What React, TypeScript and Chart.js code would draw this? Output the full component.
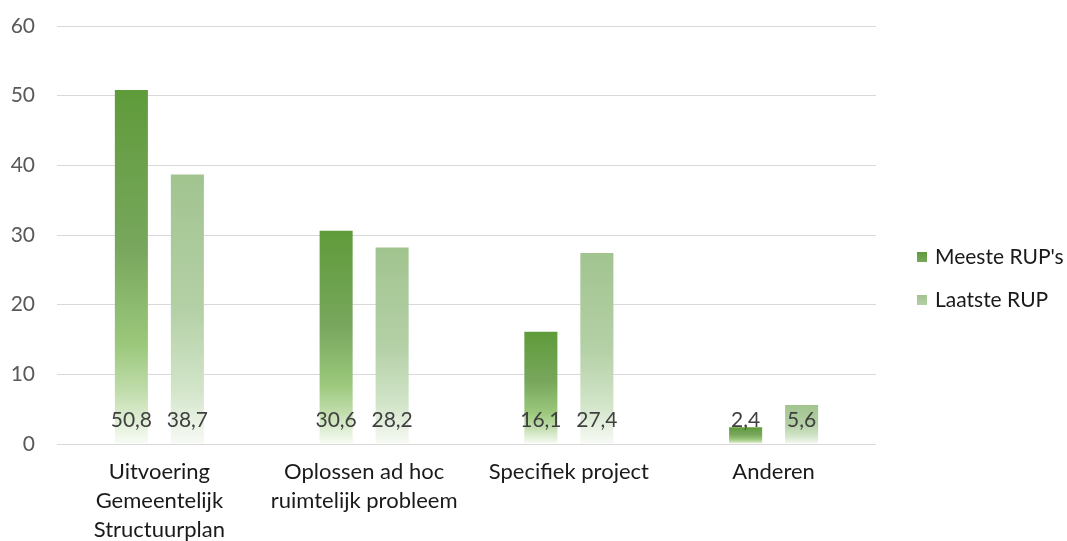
import React, { useEffect, useRef } from "react";
import { Chart, registerables } from "chart.js";

Chart.register(...registerables);

// Categories (multi-line labels are arrays)
const categories: (string | string[])[] = [
  ["Uitvoering", "Gemeentelijk", "Structuurplan"],
  ["Oplossen ad hoc", "ruimtelijk probleem"],
  "Specifiek project",
  "Anderen",
];

const seriesNames = ["Meeste RUP's", "Laatste RUP"];
const meesteRups = [50.8, 30.6, 16.1, 2.4];
const laatsteRup = [38.7, 28.2, 27.4, 5.6];

const yMin = 0;
const yMax = 60;
const yStep = 10;

// Vertical gradient stops per series (top of bar -> base)
const meesteStops: [number, string][] = [
  [0, "#5f9b3a"],
  [0.45, "#78a75d"],
  [0.72, "#9bc87b"],
  [0.85, "#c0dcab"],
  [1, "#f8fcf5"],
];
const laatsteStops: [number, string][] = [
  [0, "#a1c48f"],
  [0.5, "#b4d0a6"],
  [0.8, "#d2e5c9"],
  [1, "#f7faf5"],
];

const FONT = "Lato, 'Open Sans', sans-serif";

function barGradient(stops: [number, string][]) {
  return (ctx: any) => {
    const chart = ctx.chart;
    const { chartArea, scales } = chart;
    if (!chartArea || ctx.type !== "data" || !scales.y) return stops[0][1];
    const top = scales.y.getPixelForValue(ctx.raw);
    const base = scales.y.getPixelForValue(0);
    const g = chart.ctx.createLinearGradient(0, top, 0, base);
    stops.forEach(([o, c]) => g.addColorStop(o, c));
    return g;
  };
}

const fmt = (v: number) => v.toFixed(1).replace(".", ",");

// Value labels drawn just above the base of each bar
const valueLabels = {
  id: "valueLabels",
  afterDatasetsDraw(chart: any) {
    const { ctx, scales } = chart;
    const base = scales.y.getPixelForValue(0);
    ctx.save();
    ctx.font = `21px ${FONT}`;
    ctx.fillStyle = "#404040";
    ctx.textAlign = "center";
    ctx.textBaseline = "middle";
    chart.data.datasets.forEach((ds: any, i: number) => {
      const meta = chart.getDatasetMeta(i);
      meta.data.forEach((el: any, j: number) => {
        ctx.fillText(fmt(ds.data[j]), el.x, base - 24);
      });
    });
    ctx.restore();
  },
};

// Legend on the right with gradient swatches
const sideLegend = {
  id: "sideLegend",
  afterDraw(chart: any) {
    const { ctx } = chart;
    const x = 917;
    const ys = [257, 300];
    ctx.save();
    ctx.font = `21px ${FONT}`;
    ctx.textAlign = "left";
    ctx.textBaseline = "middle";
    chart.data.datasets.forEach((ds: any, i: number) => {
      const y = ys[i];
      const stops = i === 0 ? meesteStops : laatsteStops;
      const g = ctx.createLinearGradient(0, y - 5, 0, y + 5);
      g.addColorStop(0, stops[0][1]);
      g.addColorStop(1, stops[1][1]);
      ctx.fillStyle = g;
      ctx.fillRect(x, y - 5, 10, 10);
      ctx.fillStyle = "#1a1a1a";
      ctx.fillText(ds.label, x + 18, y);
    });
    ctx.restore();
  },
};

export default function App() {
  const canvasRef = useRef<HTMLCanvasElement | null>(null);

  useEffect(() => {
    document.body.style.margin = "0";
    const canvas = canvasRef.current;
    if (!canvas) return;
    const chart = new Chart(canvas, {
      type: "bar",
      data: {
        labels: categories,
        datasets: [
          {
            label: seriesNames[0],
            data: meesteRups,
            backgroundColor: barGradient(meesteStops),
            categoryPercentage: 0.547,
            barPercentage: 0.59,
          },
          {
            label: seriesNames[1],
            data: laatsteRup,
            backgroundColor: barGradient(laatsteStops),
            categoryPercentage: 0.547,
            barPercentage: 0.59,
          },
        ],
      },
      options: {
        animation: false,
        responsive: false,
        maintainAspectRatio: false,
        layout: { padding: { top: 26, right: 191, left: 0, bottom: 0 } },
        plugins: {
          legend: { display: false },
          tooltip: { enabled: false },
        },
        scales: {
          x: {
            grid: { display: false, drawTicks: false },
            border: { display: false },
            ticks: {
              color: "#1a1a1a",
              font: { family: FONT, size: 22, lineHeight: 1.32 },
              padding: 13,
              maxRotation: 0,
              autoSkip: false,
            },
            afterFit(scale: any) {
              scale.height = 97;
              scale.paddingLeft = 0;
              scale.paddingRight = 0;
            },
          },
          y: {
            min: yMin,
            max: yMax,
            grid: { color: "#d9d9d9", lineWidth: 1, drawTicks: false },
            border: { display: false },
            ticks: {
              stepSize: yStep,
              color: "#595959",
              font: { family: FONT, size: 21 },
              padding: 22,
            },
            afterFit(scale: any) {
              scale.width = 57;
              scale.paddingTop = 0;
              scale.paddingBottom = 0;
            },
          },
        },
      },
      plugins: [valueLabels, sideLegend],
    });
    return () => chart.destroy();
  }, []);

  return (
    <div style={{ width: 1067, height: 541 }}>
      <canvas ref={canvasRef} width={1067} height={541} />
    </div>
  );
}
